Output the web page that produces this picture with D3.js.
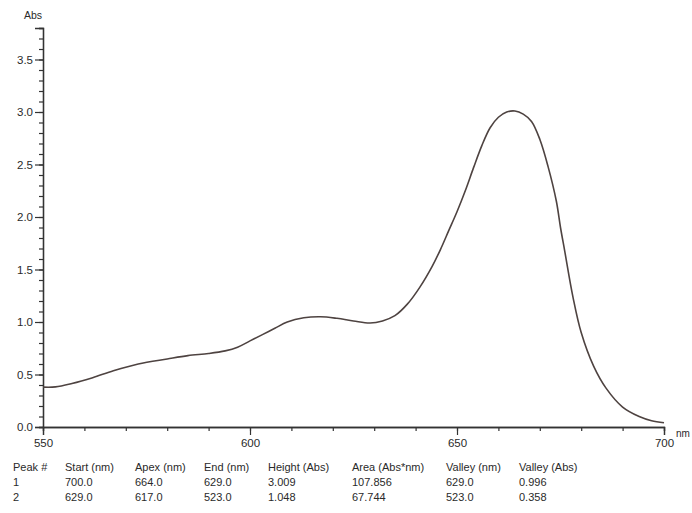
<!DOCTYPE html>
<html>
<head>
<meta charset="utf-8">
<script src="https://cdn.jsdelivr.net/npm/d3@7"></script>
<style>
  body { margin: 0; background: #fff; }
  text { font-family: "Liberation Sans", Arial, sans-serif; fill: #2a2a2a; }
</style>
</head>
<body>
<div id="chart"></div>
<script>
// Set up conventions
let width = 692;
let height = 513;
let margin = ({top: 28, right: 28, bottom: 86, left: 43});

// spectrum (nm, Abs)
let wavelengths = [550, 553, 557, 562, 567, 573, 580, 585, 590, 594, 597, 600, 603, 606, 609, 613, 617, 621, 625, 629,
    632, 635, 638, 641, 644, 646, 648, 650, 652, 654, 656, 658, 660, 662, 664, 666, 668, 670, 672,
    674, 675, 676, 678, 680, 683, 686, 690, 694, 697, 700];
let absorbance = [0.38, 0.382, 0.415, 0.47, 0.535, 0.60, 0.648, 0.68, 0.70, 0.725, 0.76, 0.82, 0.88, 0.94, 1.00, 1.04, 1.05, 1.035, 1.01, 0.99,
    1.01, 1.06, 1.17, 1.33, 1.53, 1.69, 1.87, 2.05, 2.25, 2.47, 2.68, 2.85, 2.95, 3.00, 3.01, 2.98, 2.91, 2.74, 2.48,
    2.15, 1.90, 1.68, 1.24, 0.90, 0.58, 0.37, 0.19, 0.10, 0.06, 0.04];

let xTicks = [550, 600, 650, 700];
let yTicks = [0.0, 0.5, 1.0, 1.5, 2.0, 2.5, 3.0, 3.5];

// peak table
let tableHeader = ["Peak #", "Start (nm)", "Apex (nm)", "End (nm)", "Height (Abs)", "Area (Abs*nm)", "Valley (nm)", "Valley (Abs)"];
let peak1 = ["1", "700.0", "664.0", "629.0", "3.009", "107.856", "629.0", "0.996"];
let peak2 = ["2", "629.0", "617.0", "523.0", "1.048", "67.744", "523.0", "0.358"];

let data = wavelengths.map((w, i) => ({nm: w, abs: absorbance[i]}));

let svg = d3.select("#chart")
    .append("svg")
    .attr("width", width)
    .attr("height", height)

let xScale = d3.scaleLinear()
    .domain([550, 700])
    .range([margin.left, width - margin.right])

let yScale = d3.scaleLinear()
    .domain([0, 3.8])
    .range([height - margin.bottom, margin.top])

let axisColor = "#333"

// x axis: minor ticks every 10 nm, labelled every 50
let xAxisMinor = d3.axisBottom(xScale).tickValues(d3.range(550, 701, 10)).tickSize(4).tickFormat("")
let xAxis = d3.axisBottom(xScale).tickValues(xTicks).tickSize(8).tickPadding(4).tickFormat(d3.format("d"))

let gx = svg.append("g")
    .attr("transform", "translate(0," + yScale(0) + ")")
gx.call(xAxisMinor)
gx.append("g").call(xAxis)
gx.selectAll(".domain").attr("stroke", axisColor).attr("stroke-width", 1.3)
gx.selectAll(".tick line").attr("stroke", axisColor).attr("stroke-width", 1.2)
gx.selectAll(".tick text").attr("font-size", 11.5).attr("fill", "#2a2a2a")

// y axis: minor every 0.1, labelled every 0.5
let yAxisMinor = d3.axisLeft(yScale).tickValues(d3.range(0, 3.81, 0.1)).tickSize(4).tickFormat("")
let yAxis = d3.axisLeft(yScale).tickValues(yTicks).tickSize(8).tickPadding(2).tickFormat(d3.format(".1f"))

let gy = svg.append("g")
    .attr("transform", "translate(" + xScale(550) + ",0)")
gy.call(yAxisMinor)
gy.append("g").call(yAxis)
gy.selectAll(".domain").attr("stroke", axisColor).attr("stroke-width", 1.3)
gy.selectAll(".tick line").attr("stroke", axisColor).attr("stroke-width", 1.2)
gy.selectAll(".tick text").attr("font-size", 11.5).attr("fill", "#2a2a2a")

// axis unit labels
svg.append("text")
    .attr("x", xScale(550) - 10)
    .attr("y", margin.top - 9)
    .attr("text-anchor", "middle")
    .attr("font-size", 10.5)
    .text("Abs")

svg.append("text")
    .attr("x", xScale(700) + 12)
    .attr("y", yScale(0) + 10)
    .attr("text-anchor", "start")
    .attr("font-size", 10)
    .text("nm")

// spectrum line
let line = d3.line()
    .curve(d3.curveCatmullRom)
    .x(d => xScale(d.nm))
    .y(d => yScale(d.abs))

svg.append("path")
    .datum(data)
    .attr("d", line)
    .style("fill", "none")
    .attr("stroke", "#4e4341")
    .attr("stroke-width", 1.6)

// peak table below the chart
let colX = [13, 65, 135, 204, 268, 352, 446, 519];
let rows = [tableHeader, peak1, peak2];
let rowY = [471, 486, 501];

rows.forEach((row, r) => {
    svg.append("g")
        .selectAll("text")
        .data(row)
        .enter()
        .append("text")
        .attr("x", (d, i) => colX[i])
        .attr("y", rowY[r])
        .attr("font-size", 11)
        .text(d => d)
})
</script>
</body>
</html>
